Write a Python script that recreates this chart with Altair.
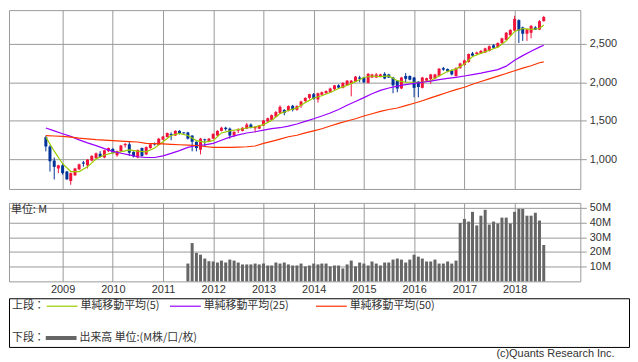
import altair as alt
import pandas as pd

# ---------------- data ----------------
first_month = "2008-09-01"
opens = [1286, 1163, 980, 877, 918, 837, 714, 788, 865, 955,
         918, 980, 1012, 1069, 1020, 1102, 1131, 1049, 1102, 1180,
         1192, 1094, 1020, 1143, 1061, 1143, 1204, 1184, 1253, 1286,
         1327, 1306, 1367, 1347, 1347, 1306, 1225, 1122, 1257, 1225,
         1265, 1306, 1367, 1408, 1396, 1306, 1370, 1367, 1396, 1449,
         1400, 1396, 1437, 1490, 1510, 1551, 1600, 1640, 1633, 1694,
         1641, 1694, 1755, 1796, 1845, 1776, 1837, 1857, 1870, 1910,
         1960, 1927, 1960, 1980, 2008, 2062, 2062, 1992, 2062, 2062,
         2074, 2110, 2102, 2062, 2021, 1919, 2082, 2082, 2062, 2008,
         1927, 2021, 2041, 2049, 2082, 2184, 2172, 2155, 2082, 2184,
         2225, 2266, 2376, 2368, 2376, 2388, 2409, 2482, 2458, 2511,
         2552, 2613, 2674, 2809, 2715, 2633, 2645, 2715, 2686, 2796]
highs = [1305, 1180, 1020, 925, 935, 845, 825, 885, 940, 975,
         1000, 1050, 1085, 1102, 1120, 1150, 1145, 1110, 1185, 1210,
         1225, 1100, 1125, 1150, 1165, 1200, 1215, 1275, 1300, 1345,
         1347, 1375, 1375, 1350, 1355, 1310, 1230, 1275, 1265, 1275,
         1335, 1375, 1420, 1420, 1410, 1360, 1400, 1415, 1470, 1465,
         1425, 1445, 1510, 1540, 1580, 1625, 1700, 1650, 1700, 1705,
         1700, 1760, 1805, 1850, 1860, 1865, 1880, 1895, 1930, 1965,
         1975, 2000, 2030, 2030, 2080, 2085, 2070, 2120, 2110, 2120,
         2110, 2131, 2110, 2070, 2030, 2070, 2120, 2090, 2070, 2015,
         2070, 2060, 2110, 2110, 2185, 2200, 2180, 2165, 2195, 2255,
         2295, 2375, 2395, 2400, 2420, 2450, 2480, 2495, 2520, 2580,
         2655, 2690, 2866, 2820, 2725, 2700, 2745, 2730, 2810, 2865]
lows = [1100, 837, 735, 816, 796, 730, 665, 780, 860, 900,
        877, 970, 1000, 1020, 1010, 1090, 1070, 1030, 1095, 1150,
        1040, 1020, 1010, 1030, 1050, 1135, 1175, 1180, 1245, 1280,
        1245, 1300, 1320, 1330, 1255, 1100, 1100, 1060, 1155, 1220,
        1260, 1300, 1360, 1370, 1265, 1286, 1340, 1360, 1390, 1400,
        1347, 1390, 1430, 1480, 1500, 1540, 1590, 1570, 1620, 1620,
        1630, 1665, 1745, 1775, 1775, 1735, 1830, 1850, 1865, 1900,
        1925, 1920, 1955, 1817, 2000, 2000, 1990, 1985, 2055, 2055,
        2065, 2040, 2055, 1857, 1870, 1910, 2000, 2025, 1804, 1804,
        1920, 2010, 1980, 2040, 2075, 2150, 2130, 2090, 2075, 2175,
        2215, 2255, 2330, 2360, 2370, 2380, 2400, 2440, 2450, 2500,
        2545, 2605, 2665, 2511, 2539, 2539, 2572, 2680, 2680, 2790]
closes = [1163, 971, 898, 918, 816, 735, 816, 877, 931, 940,
          992, 1041, 1073, 1029, 1114, 1143, 1082, 1102, 1176, 1195,
          1082, 1033, 1118, 1041, 1155, 1192, 1190, 1265, 1294, 1339,
          1310, 1367, 1327, 1335, 1265, 1225, 1143, 1265, 1245, 1265,
          1327, 1367, 1408, 1390, 1306, 1355, 1388, 1408, 1449, 1408,
          1420, 1437, 1502, 1531, 1572, 1612, 1680, 1600, 1690, 1640,
          1690, 1750, 1796, 1845, 1784, 1857, 1870, 1886, 1919, 1960,
          1930, 1992, 2021, 2021, 2074, 2045, 2000, 2110, 2102, 2102,
          2102, 2049, 2062, 1960, 1919, 2062, 2045, 2033, 1927, 1939,
          2062, 2053, 2102, 2102, 2176, 2164, 2143, 2102, 2184, 2245,
          2286, 2368, 2347, 2388, 2409, 2441, 2470, 2449, 2511, 2572,
          2645, 2682, 2825, 2674, 2633, 2686, 2735, 2686, 2796, 2850]

# moving averages read every second month (month offsets from first_month)
ma_offsets = list(range(0, 120, 2)) + [119]
ma5 = [1286, 1102, 939, 837, 837, 898, 1000, 1053, 1080, 1094,
       1120, 1102, 1094, 1143, 1225, 1306, 1335, 1306, 1240, 1220,
       1240, 1340, 1367, 1385, 1404, 1420, 1449, 1502, 1592, 1633,
       1666, 1735, 1796, 1825, 1866, 1919, 1960, 2008, 2062, 2082,
       2074, 2082, 2021, 2000, 2000, 2000, 2021, 2082, 2143, 2172,
       2237, 2335, 2376, 2417, 2458, 2539, 2662, 2700, 2690, 2700,
       2747]
ma25 = [1404, 1367, 1330, 1295, 1250, 1210, 1175, 1135, 1100, 1075,
        1055, 1030, 1020, 1020, 1041, 1073, 1110, 1151, 1176, 1184,
        1204, 1245, 1286, 1314, 1339, 1355, 1376, 1396, 1408, 1429,
        1457, 1490, 1525, 1560, 1600, 1645, 1700, 1750, 1800, 1850,
        1895, 1925, 1950, 1970, 1985, 2000, 2015, 2035, 2050, 2065,
        2082, 2100, 2120, 2143, 2165, 2210, 2286, 2347, 2405, 2458,
        2482]
ma50 = [1306, 1300, 1295, 1286, 1272, 1262, 1253, 1247, 1240, 1233,
        1228, 1222, 1204, 1202, 1198, 1192, 1186, 1182, 1176, 1163,
        1151, 1151, 1151, 1155, 1160, 1170, 1204, 1230, 1260, 1290,
        1310, 1340, 1367, 1395, 1430, 1465, 1495, 1525, 1560, 1590,
        1620, 1645, 1665, 1695, 1727, 1760, 1796, 1833, 1870, 1905,
        1935, 1975, 2010, 2045, 2080, 2115, 2150, 2185, 2215, 2255,
        2266]
ma_names = ["単純移動平均(5)", "単純移動平均(25)", "単純移動平均(50)"]

vol_first_month = "2011-07-01"
volumes = [12.1, 26, 19.4, 18.1, 15.5, 13.7, 13.5, 12.8, 14.1, 12.8,
           14.8, 14.1, 12.8, 11.5, 11.5, 11.5, 12.1, 11.5, 12.1, 10.8,
           10.8, 12.8, 12.1, 12.8, 11.5, 10.8, 10.8, 12.1, 10.2, 10.8,
           12.1, 11.5, 12.1, 12.1, 10.2, 10.8, 10.8, 8.8, 11.5, 14.1,
           10.2, 12.8, 12.1, 10.8, 13.5, 12.1, 10.8, 12.8, 12.8, 14.8,
           15.5, 14.8, 12.8, 14.8, 18.1, 16.8, 15.5, 13.5, 13.5, 14.8,
           12.1, 12.1, 13.5, 12.1, 14.1, 39.7, 42.4, 40.6, 47.2, 38,
           44.6, 48.6, 38.6, 40.6, 39.3, 43.3, 43.3, 39.3, 47.2, 49.2,
           49.2, 44.6, 44.6, 46.6, 41.3, 24.7]

years = list(range(2009, 2019))
price_ticks = [1000, 1500, 2000, 2500]
volume_ticks = [10, 20, 30, 40, 50]
unit_label = "単位: M"
upper_label = "上段："
lower_label = "下段："
volume_legend_label = "出来高 単位:(M株/口/枚)"
copyright_text = "(c)Quants Research Inc."

# ---------------- tables ----------------
months = pd.date_range(first_month, periods=len(closes), freq="MS")
candles = pd.DataFrame({"date": months, "open": opens, "high": highs,
                        "low": lows, "close": closes})
candles["dir"] = ["up" if c >= o else "down" for o, c in zip(opens, closes)]

ma_rows = []
for name, vals in zip(ma_names, [ma5, ma25, ma50]):
    for off, v in zip(ma_offsets, vals):
        ma_rows.append({"date": months[off], "series": name, "value": v})
ma_df = pd.DataFrame(ma_rows)

vol_df = pd.DataFrame({"date": pd.date_range(vol_first_month, periods=len(volumes), freq="MS"),
                       "vol": volumes})

# ---------------- style ----------------
RED = "#f0143c"
BLUE = "#003399"
MA_COLORS = ["#99cc00", "#9900ff", "#ff3300"]
GRID = "#999999"
TXT = "#333333"
NUM_FONT = "Liberation Sans"
JP_FONT = "Noto Sans CJK JP"

xscale = alt.Scale(domain=[alt.DateTime(year=2007, month=12, date=8),
                           alt.DateTime(year=2019, month=4, date=24)],
                   nice=False, padding=0)
year_ticks = [alt.DateTime(year=y, month=1, date=1) for y in years]

x_upper = alt.X("date:T", scale=xscale, title=None,
                axis=alt.Axis(values=year_ticks, grid=True, labels=False, ticks=False,
                              domain=False, gridColor=GRID, gridOpacity=1))
price_scale = alt.Scale(domain=[610, 2940], nice=False, zero=False, padding=0)
price_axis = alt.Axis(orient="right", values=price_ticks, format=",.0f", grid=True,
                      gridColor=GRID, gridOpacity=1, domain=False, tickColor=GRID,
                      tickSize=6, labelPadding=3, labelFontSize=11, labelFont=NUM_FONT,
                      labelColor=TXT, title=None)
dir_color = alt.Color("dir:N", scale=alt.Scale(domain=["up", "down"], range=[RED, BLUE]),
                      legend=None)

base = alt.Chart(candles)
wicks = base.mark_rule(strokeWidth=1).encode(
    x=x_upper, y=alt.Y("low:Q", scale=price_scale, axis=price_axis), y2="high:Q",
    color=dir_color)
bodies = base.mark_bar(size=3).encode(
    x=x_upper, y=alt.Y("open:Q", scale=price_scale, axis=price_axis), y2="close:Q",
    color=dir_color)
lines = alt.Chart(ma_df).mark_line(strokeWidth=1.2).encode(
    x=x_upper, y=alt.Y("value:Q", scale=price_scale, axis=price_axis),
    color=alt.Color("series:N", scale=alt.Scale(domain=ma_names, range=MA_COLORS), legend=None),
    detail="series:N")

upper = alt.layer(wicks, bodies, lines).resolve_scale(color="independent").properties(
    width=575, height=180)

x_vol = alt.X("date:T", scale=xscale, title=None,
              axis=alt.Axis(values=year_ticks, format="%Y", grid=True, ticks=False,
                            domain=False, gridColor=GRID, gridOpacity=1, labelPadding=2,
                            labelFontSize=11, labelFont=NUM_FONT, labelColor=TXT,
                            labelFlush=False))
vol_bars = alt.Chart(vol_df).mark_bar(size=3, color="#666666").encode(
    x=x_vol,
    y=alt.Y("vol:Q", scale=alt.Scale(domain=[0, 53.3], nice=False, padding=0),
            axis=alt.Axis(orient="right", values=volume_ticks, labelExpr="datum.value + 'M'",
                          grid=True, gridColor=GRID, gridOpacity=1, domain=False,
                          tickColor=GRID, tickSize=6, labelPadding=3, labelFontSize=11,
                          labelFont=NUM_FONT, labelColor=TXT, title=None)))
unit_txt = alt.Chart(pd.DataFrame({"t": [unit_label]})).mark_text(
    align="left", baseline="middle", font=JP_FONT, fontSize=11, color=TXT).encode(
    x=alt.value(2), y=alt.value(7), text="t:N")
volume = alt.layer(vol_bars, unit_txt).properties(width=575, height=79)

# ---------------- legend panel ----------------
def one_text(label, x, y):
    return alt.Chart(pd.DataFrame({"t": [label]})).mark_text(
        align="left", baseline="middle", font=JP_FONT, fontSize=11, color=TXT).encode(
        x=alt.value(x), y=alt.value(y), text="t:N")

def one_line(label, color, x, y, sw):
    return alt.Chart(pd.DataFrame({"t": [label]})).mark_rule(
        color=color, strokeWidth=sw).encode(
        x=alt.value(x), x2=alt.value(x + 31), y=alt.value(y))

row1, row2 = 8, 40
leg_layers = [one_text(upper_label, 3, row1)]
for name, col, lx in zip(ma_names, MA_COLORS, [38, 162, 309]):
    leg_layers.append(one_line(name, col, lx, row1, 1.2))
    leg_layers.append(one_text(name, lx + 34, row1))
leg_layers.append(one_text(lower_label, 3, row2))
leg_layers.append(one_line(volume_legend_label, "#666666", 37, row2, 4))
leg_layers.append(one_text(volume_legend_label, 71, row2))
legend_panel = alt.layer(*leg_layers).properties(
    width=624, height=49, view=alt.ViewBackground(stroke="#000000", strokeWidth=1))

chart = alt.vconcat(
    alt.vconcat(upper, volume, spacing=11),
    legend_panel,
    spacing=2,
    title=alt.TitleParams(copyright_text, orient="bottom", anchor="end", fontSize=11,
                          fontWeight="normal", font=NUM_FONT, color=TXT, offset=1, dx=-15),
).configure_view(stroke=GRID, strokeWidth=1).properties(background="white", padding=0)

chart.save("out.html", embed_options={"renderer": "svg", "actions": False})
